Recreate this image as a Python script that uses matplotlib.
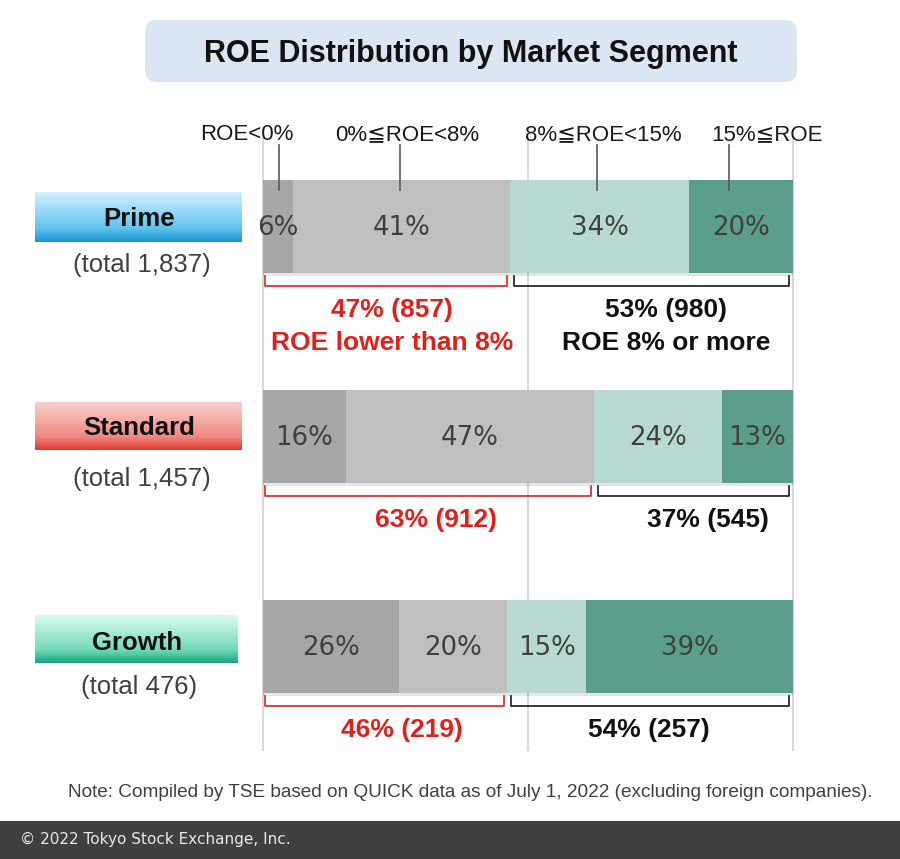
import numpy as np
import matplotlib.pyplot as plt
from matplotlib.patches import FancyBboxPatch, Rectangle
from matplotlib.colors import LinearSegmentedColormap

# ── data ─────────────────────────────────────────────────────────────────────
segments = ["Prime", "Standard", "Growth"]
totals = ["1,837", "1,457", "476"]
bands = ["ROE<0%", "0%≦ROE<8%", "8%≦ROE<15%", "15%≦ROE"]

# share of listed companies (%) in each ROE band, per market segment
roe_neg = [5.6, 15.6, 25.7]
roe_0_8 = [41.0, 46.9, 20.3]
roe_8_15 = [33.8, 24.1, 15.0]
roe_15 = [19.6, 13.4, 39.0]

# number of companies below / at or above 8% ROE
low_count = [857, 912, 219]
high_count = [980, 545, 257]

# ── styling ──────────────────────────────────────────────────────────────────
BAND_COLORS = ["#a6a6a6", "#bfbfbf", "#b8d9d2", "#5b9e8b"]
RED = "#e0201b"
TXT = "#404040"
SANS = ["Liberation Sans", "DejaVu Sans"]
BOX_GRADIENTS = [
    ["#d3f1fd", "#62c3ee", "#1a94cf"],
    ["#f9d0cc", "#f08a82", "#e2392e"],
    ["#dafbf0", "#74dbb9", "#17a57f"],
]
# label box pixel extents (x0, x1, y0, y1) and text baselines
BOXES = [(35, 242, 192, 242), (35, 242, 402, 450), (35, 238, 615, 663)]
NAME_BASE = [226, 435, 650]
TOTAL_BASE = [272, 486, 694]

# leader lines & band label positions (percent axis)
leader_x = [3.0, 25.8, 63.0, 87.9]
band_label_x = [-3.1, 27.2, 64.2, 95.1]
# bracket caption centres (percent axis)
low_text_x = [24.4, 32.6, 26.2]
high_text_x = [76.0, 84.0, 72.8]

plt.rcParams["font.family"] = SANS

W, H = 900, 859
fig = plt.figure(figsize=(W / 100, H / 100), dpi=100)

# background / decoration axes in pixel units
bg = fig.add_axes([0, 0, 1, 1])
bg.set_xlim(0, W)
bg.set_ylim(H, 0)
bg.axis("off")

title_box = FancyBboxPatch((145, 20), 652, 62,
                           boxstyle="round,pad=0,rounding_size=12",
                           facecolor="#dce6f2", edgecolor="none")
bg.add_patch(title_box)
bg.text(471, 62, "ROE Distribution by Market Segment", ha="center",
        va="baseline", fontsize=22, fontweight="bold", color="#111111")

for i, name in enumerate(segments):
    x0, x1, y0, y1 = BOXES[i]
    cmap = LinearSegmentedColormap.from_list(
        name, list(zip([0, 0.72, 1.0], BOX_GRADIENTS[i])))
    grad = np.linspace(0, 1, 100).reshape(-1, 1)
    bg.imshow(grad, cmap=cmap, extent=(x0, x1, y1, y0), aspect="auto",
              origin="upper", interpolation="bilinear")
    bg.text((x0 + x1) / 2 + 1, NAME_BASE[i], name, ha="center",
            va="baseline", fontsize=18.5, fontweight="bold", color="#111111")
    bg.text((x0 + x1) / 2 + 3, TOTAL_BASE[i], f"(total {totals[i]})",
            ha="center", va="baseline", fontsize=18.5, color=TXT)

bg.add_patch(Rectangle((0, 821), W, H - 821, facecolor="#404040",
                       edgecolor="none"))
bg.text(20, 844, "© 2022 Tokyo Stock Exchange, Inc.", ha="left",
        va="baseline", fontsize=11, color="#e8e8e8",
        family=["DejaVu Sans"])
bg.text(873, 797, "Note: Compiled by TSE based on QUICK data as of July 1, "
        "2022 (excluding foreign companies).", ha="right", va="baseline",
        fontsize=13.65, color=TXT)
bg.set_xlim(0, W)
bg.set_ylim(H, 0)

# ── bar axes: x in percent, y in rows (1 row = 210 px) ──────────────────────
ROW = 210.0
top_px, bot_px = 138, 750
ax = fig.add_axes([263 / W, (H - bot_px) / H, 530 / W, (bot_px - top_px) / H])
ax.set_xlim(0, 100)
ax.set_ylim(2 + (bot_px - 646.5) / ROW, -(226.5 - top_px) / ROW)
ax.axis("off")
ax.patch.set_alpha(0)

px = 1 / ROW  # one pixel in row units
bar_h = 93 * px

for gx in (0, 50, 100):
    ax.axvline(gx, color="#d9d9d9", lw=1.5, zorder=0, clip_on=False)

ypos = np.arange(len(segments))
values = np.array([roe_neg, roe_0_8, roe_8_15, roe_15])
lefts = np.zeros(len(segments))

# soft shadow under each bar
ax.barh(ypos + 3 * px, values.sum(axis=0), height=bar_h, color="#000000",
        alpha=0.10, zorder=1)

for k in range(4):
    ax.barh(ypos, values[k], left=lefts, height=bar_h,
            color=BAND_COLORS[k], zorder=2)
    for i in range(len(segments)):
        ax.text(lefts[i] + values[k][i] / 2, ypos[i] + 8.5 * px,
                f"{values[k][i]:.0f}%", ha="center", va="baseline",
                fontsize=18.7, color=TXT, family=["DejaVu Sans"], zorder=4)
    lefts = lefts + values[k]

# band labels with leader lines above the first bar
for k in range(4):
    ax.plot([leader_x[k], leader_x[k]], [-81.5 * px, -36.5 * px],
            color="#595959", lw=1.2, zorder=3, clip_on=False)
    ax.text(band_label_x[k], -86 * px, bands[k], ha="center", va="baseline",
            fontsize=16, color="#1a1a1a")

# brackets and captions
for i in range(len(segments)):
    total = low_count[i] + high_count[i]
    split = roe_neg[i] + roe_0_8[i]
    yb = ypos[i] + bar_h / 2
    y1, y2 = yb + 3 * px, yb + 13 * px
    lx0, lx1 = 0.4, split - 0.6
    hx0, hx1 = split + 0.7, 99.3
    ax.plot([lx0, lx0, lx1, lx1], [y1, y2, y2, y1], color=RED, lw=1.2,
            zorder=3)
    ax.plot([hx0, hx0, hx1, hx1], [y1, y2, y2, y1], color="#1a1a1a", lw=1.2,
            zorder=3)
    ax.text(low_text_x[i], yb + 44 * px,
            f"{100 * low_count[i] / total:.0f}% ({low_count[i]})",
            ha="center", va="baseline", fontsize=19, fontweight="bold",
            color=RED)
    ax.text(high_text_x[i], yb + 44 * px,
            f"{100 * high_count[i] / total:.0f}% ({high_count[i]})",
            ha="center", va="baseline", fontsize=19, fontweight="bold",
            color="#111111")
    if i == 0:
        ax.text(low_text_x[i], yb + 77 * px, "ROE lower than 8%",
                ha="center", va="baseline", fontsize=19, fontweight="bold",
                color=RED)
        ax.text(high_text_x[i], yb + 77 * px, "ROE 8% or more",
                ha="center", va="baseline", fontsize=19, fontweight="bold",
                color="#111111")

fig.savefig("out.png", dpi=100)
